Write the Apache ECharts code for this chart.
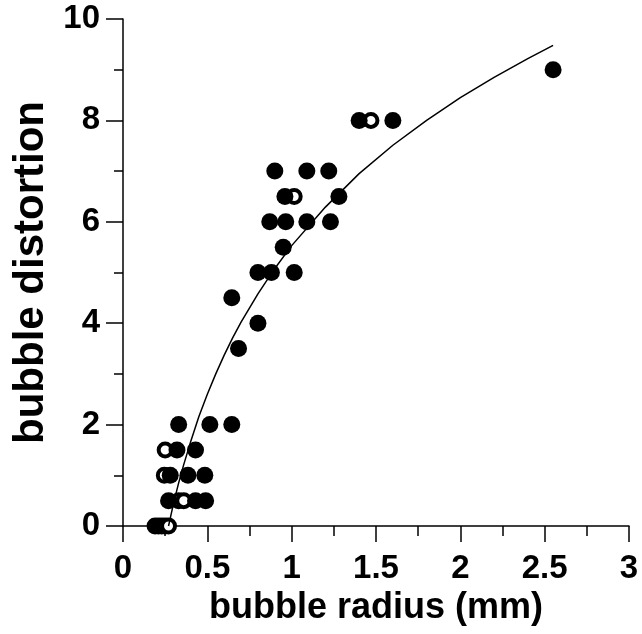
<!DOCTYPE html>
<html>
<head>
<meta charset="utf-8">
<script src="https://cdn.jsdelivr.net/npm/echarts@6/dist/echarts.min.js"></script>
<style>
html,body{margin:0;padding:0;background:#fff;}
#chart{width:642px;height:634px;}
</style>
</head>
<body>
<div id="chart"></div>
<script>
// Filled circles: [radius (mm), distortion]
const filledX = [2.55, 1.40, 1.60, 0.90, 1.09, 1.22, 0.96, 1.28, 0.87, 0.965, 1.09, 1.23, 0.95, 0.80, 0.88, 1.015, 0.645, 0.80, 0.685, 0.33, 0.515, 0.645, 0.32, 0.43, 0.28, 0.385, 0.485, 0.27, 0.43, 0.49];
const filledY = [9, 8, 8, 7, 7, 7, 6.5, 6.5, 6, 6, 6, 6, 5.5, 5, 5, 5, 4.5, 4, 3.5, 2, 2, 2, 1.5, 1.5, 1, 1, 1, 0.5, 0.5, 0.5];
// Open circles
const openX = [1.47, 1.015, 0.25, 0.245, 0.33, 0.36, 0.19, 0.21, 0.23, 0.25, 0.27];
const openY = [8, 6.5, 1.5, 1, 0.5, 0.5, 0, 0, 0, 0, 0];
// Fitted curve
const curveX = [0.27, 0.28, 0.30, 0.33, 0.36, 0.40, 0.45, 0.50, 0.55, 0.60, 0.65, 0.70, 0.80, 0.90, 1.00, 1.20, 1.40, 1.60, 1.80, 2.00, 2.20, 2.40, 2.55];
const curveY = [0, 0.15, 0.45, 0.85, 1.21, 1.65, 2.16, 2.6, 3.0, 3.37, 3.71, 4.02, 4.58, 5.08, 5.53, 6.29, 6.95, 7.51, 8.0, 8.45, 8.85, 9.22, 9.48];
// Tick labels
const xTickLabels = ['0', '0.5', '1', '1.5', '2', '2.5', '3'];
const yTickLabels = ['0', '2', '4', '6', '8', '10'];

const zip = (a, b) => a.map((v, i) => [v, b[i]]);
const FONT = "'Liberation Sans', Arial, sans-serif";

const chart = echarts.init(document.getElementById('chart'), null, {renderer: 'canvas'});
chart.setOption({
  animation: false,
  backgroundColor: '#fff',
  grid: {left: 123, right: 13, top: 19, bottom: 108, containLabel: false},
  xAxis: {
    type: 'value', min: 0, max: 3, interval: 0.5,
    name: 'bubble radius (mm)', nameLocation: 'middle', nameGap: 62,
    nameTextStyle: {fontFamily: FONT, fontWeight: 'bold', fontSize: 36, color: '#000'},
    axisLine: {show: true, onZero: false, lineStyle: {color: '#000', width: 1.5}},
    axisTick: {show: true, length: 16, lineStyle: {color: '#000', width: 1.5}},
    minorTick: {show: true, splitNumber: 2, length: 10, lineStyle: {color: '#000', width: 1.5}},
    splitLine: {show: false},
    axisLabel: {margin: 26, fontFamily: FONT, fontWeight: 'bold', fontSize: 33, color: '#000',
      formatter: (v) => xTickLabels[Math.round(v / 0.5)]}
  },
  yAxis: {
    type: 'value', min: 0, max: 10, interval: 2,
    name: 'bubble distortion', nameLocation: 'middle', nameGap: 70, nameRotate: 90,
    nameTextStyle: {fontFamily: FONT, fontWeight: 'bold', fontSize: 42, color: '#000'},
    axisLine: {show: true, onZero: false, lineStyle: {color: '#000', width: 1.5}},
    axisTick: {show: true, length: 17, lineStyle: {color: '#000', width: 1.5}},
    minorTick: {show: true, splitNumber: 2, length: 9, lineStyle: {color: '#000', width: 1.5}},
    splitLine: {show: false},
    axisLabel: {margin: 23, fontFamily: FONT, fontWeight: 'bold', fontSize: 33, color: '#000',
      formatter: (v) => yTickLabels[Math.round(v / 2)]}
  },
  series: [
    {
      type: 'scatter', name: 'open', data: zip(openX, openY), z: 2,
      symbol: 'circle', symbolSize: 13,
      itemStyle: {color: '#fff', borderColor: '#000', borderWidth: 4, opacity: 1},
      emphasis: {disabled: true}
    },
    {
      type: 'scatter', name: 'filled', data: zip(filledX, filledY), z: 3,
      symbol: 'circle', symbolSize: 17,
      itemStyle: {color: '#000', opacity: 1},
      emphasis: {disabled: true}
    },
    {
      type: 'line', name: 'fit', data: zip(curveX, curveY), z: 4,
      showSymbol: false, smooth: false,
      lineStyle: {color: '#000', width: 1.5},
      emphasis: {disabled: true}
    }
  ]
});
</script>
</body>
</html>
